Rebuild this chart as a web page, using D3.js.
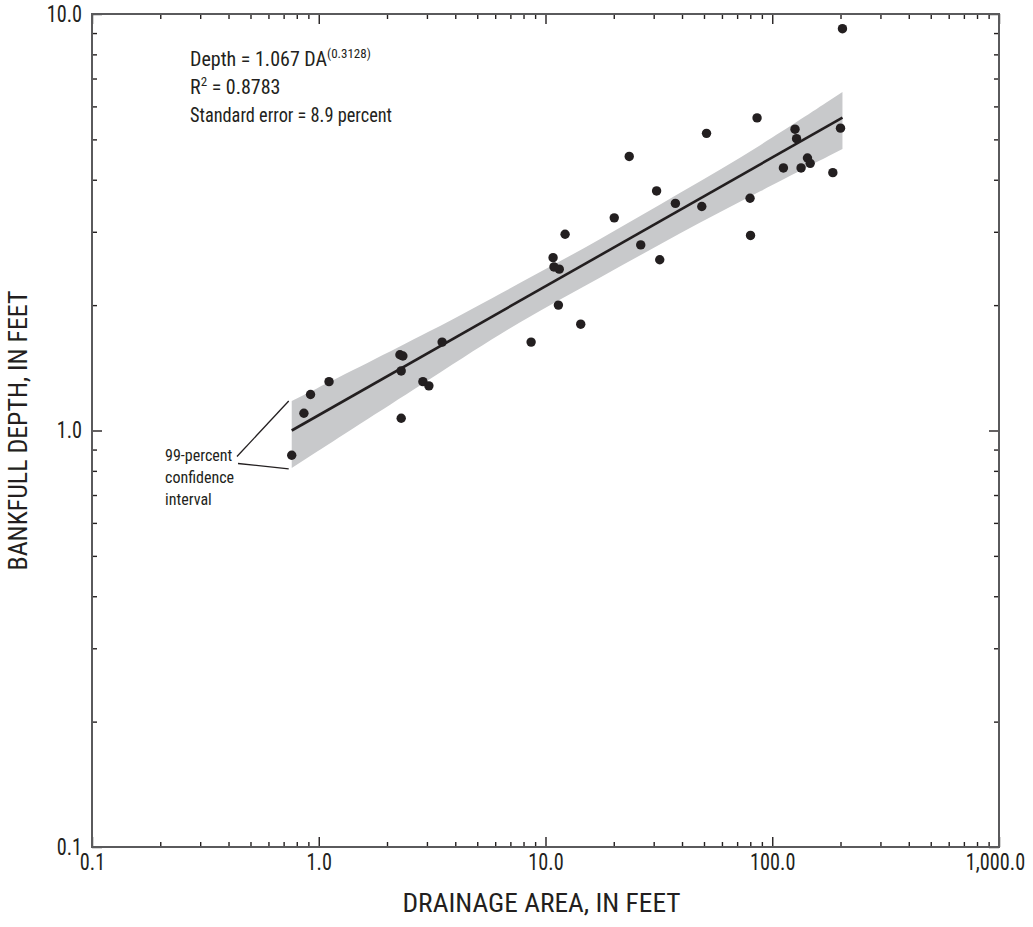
<!DOCTYPE html>
<html><head><meta charset="utf-8">
<script src="https://cdn.jsdelivr.net/npm/d3@7"></script>
<style>
html,body{margin:0;padding:0;background:#fff;}
svg text{font-family:"Liberation Sans Narrow","Arial Narrow","Roboto Condensed","Liberation Sans",sans-serif;font-stretch:condensed;fill:#231f20;}
</style></head>
<body><svg id="chart" width="1033" height="927"></svg>
<script>
// ---- data ----
const drainageArea = [0.76,0.86,0.92,1.11,2.28,2.35,2.31,2.88,3.06,2.31,3.50,8.64,10.8,10.9,11.5,11.4,12.2,14.3,20.1,23.4,26.3,30.9,31.9,37.4,48.9,51.3,79.8,80.2,85.7,112,126,128,134,143,147,185,200,204];
const bankfullDepth = [0.872,1.10,1.22,1.31,1.52,1.51,1.39,1.31,1.28,1.07,1.63,1.63,2.60,2.47,2.44,2.00,2.96,1.80,3.24,4.55,2.79,3.76,2.57,3.51,3.45,5.17,3.61,2.94,5.63,4.27,5.29,5.02,4.27,4.51,4.38,4.16,5.32,9.22];
const fitDA = [0.76, 204];
const fitDepth = [1.0, 5.64];
const bandDA = [0.76, 3.42, 7.70, 17.35, 39.1, 88.1, 204];
const bandLower = [0.813, 1.376, 1.832, 2.323, 2.980, 3.748, 4.742];
const bandUpper = [1.177, 1.774, 2.261, 2.867, 3.717, 4.808, 6.496];
const xTickValues = [0.1, 1, 10, 100, 1000];
const xTickLabels = ["0.1", "1.0", "10.0", "100.0", "1,000.0"];
const yTickValues = [0.1, 1, 10];
const yTickLabels = ["0.1", "1.0", "10.0"];
const xTitle = "DRAINAGE AREA, IN FEET";
const yTitle = "BANKFULL DEPTH, IN FEET";
const annotationLines = ["99-percent", "confidence", "interval"];

// ---- layout ----
const L = 92, R = 999, T = 14, B = 847;
const svg = d3.select("#chart");
const x = d3.scaleLog().domain([0.1, 1000]).range([L, R]);
const y = d3.scaleLog().domain([0.1, 10]).range([B, T]);
const ink = "#231f20";

const minorX = [], minorY = [];
[0.1, 1, 10, 100].forEach(d => { for (let k = 2; k <= 9; k++) minorX.push(d * k); });
[0.1, 1].forEach(d => { for (let k = 2; k <= 9; k++) minorY.push(d * k); });

// confidence band
const bandData = bandDA.map((d, i) => ({da: d, lo: bandLower[i], hi: bandUpper[i]}));
svg.append("path")
  .datum(bandData)
  .attr("fill", "#c8c9cb")
  .attr("d", d3.area().curve(d3.curveBasis)
    .x(d => x(d.da)).y0(d => y(d.lo)).y1(d => y(d.hi)));

// fitted line
svg.append("path")
  .datum(fitDA.map((d, i) => [d, fitDepth[i]]))
  .attr("fill", "none").attr("stroke", ink).attr("stroke-width", 2.6)
  .attr("d", d3.line().x(d => x(d[0])).y(d => y(d[1])));

// points
svg.append("g").selectAll("circle")
  .data(drainageArea.map((d, i) => [d, bankfullDepth[i]]))
  .join("circle")
  .attr("cx", d => x(d[0])).attr("cy", d => y(d[1])).attr("r", 4.7)
  .attr("fill", ink);

// axes ticks (inward)
function styleAxis(g) {
  g.select(".domain").remove();
  g.selectAll(".tick line").attr("stroke", ink).attr("stroke-width", 1.4);
  g.selectAll(".tick text").attr("font-size", 23).attr("fill", ink)
    .attr("font-family", null)
    .each(function () {
      const w = this.getComputedTextLength();
      d3.select(this).attr("textLength", w * 0.88).attr("lengthAdjust", "spacingAndGlyphs");
    });
}
// bottom
const xMajor = svg.append("g").attr("transform", `translate(0,${B})`)
  .call(d3.axisBottom(x).tickValues(xTickValues).tickSize(-10).tickPadding(7)
    .tickFormat((d, i) => xTickLabels[i])).call(styleAxis);
xMajor.selectAll(".tick text").filter(d => d === 1000).attr("dx", -4);
svg.append("g").attr("transform", `translate(0,${B})`)
  .call(d3.axisBottom(x).tickValues(minorX).tickSize(-5).tickFormat("")).call(styleAxis);
// top
svg.append("g").attr("transform", `translate(0,${T})`)
  .call(d3.axisTop(x).tickValues(xTickValues).tickSize(-10).tickFormat("")).call(styleAxis);
svg.append("g").attr("transform", `translate(0,${T})`)
  .call(d3.axisTop(x).tickValues(minorX).tickSize(-5).tickFormat("")).call(styleAxis);
// left
svg.append("g").attr("transform", `translate(${L},0)`)
  .call(d3.axisLeft(y).tickValues(yTickValues).tickSize(-10).tickPadding(10)
    .tickFormat((d, i) => yTickLabels[i])).call(styleAxis);
svg.append("g").attr("transform", `translate(${L},0)`)
  .call(d3.axisLeft(y).tickValues(minorY).tickSize(-5).tickFormat("")).call(styleAxis);
// right
svg.append("g").attr("transform", `translate(${R},0)`)
  .call(d3.axisRight(y).tickValues(yTickValues).tickSize(-10).tickFormat("")).call(styleAxis);
svg.append("g").attr("transform", `translate(${R},0)`)
  .call(d3.axisRight(y).tickValues(minorY).tickSize(-5).tickFormat("")).call(styleAxis);

// frame
svg.append("rect").attr("x", L).attr("y", T).attr("width", R - L).attr("height", B - T)
  .attr("fill", "none").attr("stroke", "#5a5a5c").attr("stroke-width", 2);

// titles
svg.append("text").attr("x", (L + R) / 2 - 4).attr("y", 912).attr("text-anchor", "middle")
  .attr("font-size", 25).attr("textLength", 278).attr("lengthAdjust", "spacingAndGlyphs")
  .text(xTitle);
svg.append("text").attr("transform", `translate(27,${(T + B) / 2}) rotate(-90)`)
  .attr("text-anchor", "middle").attr("font-size", 25)
  .attr("textLength", 280).attr("lengthAdjust", "spacingAndGlyphs").text(yTitle);

// equation block
const eq = svg.append("g");
const t1 = eq.append("text").attr("x", 190).attr("y", 66).attr("font-size", 20);
t1.append("tspan").text("Depth = 1.067 DA");
t1.append("tspan").attr("dy", -8).attr("font-size", 13).text("(0.3128)");
const t2 = eq.append("text").attr("x", 190).attr("y", 94).attr("font-size", 20);
t2.append("tspan").text("R");
t2.append("tspan").attr("dy", -8).attr("font-size", 13).text("2");
t2.append("tspan").attr("dy", 8).text(" = 0.8783");
eq.append("text").attr("x", 190).attr("y", 122).attr("font-size", 20)
  .attr("textLength", 202).attr("lengthAdjust", "spacingAndGlyphs")
  .text("Standard error = 8.9 percent");

// annotation
svg.append("g").selectAll("text").data(annotationLines).join("text")
  .attr("x", 165).attr("y", (d, i) => 461 + i * 22).attr("font-size", 16).text(d => d);
const bandStartX = x(bandDA[0]) - 3;
svg.append("line").attr("x1", 237).attr("y1", 456.5).attr("x2", bandStartX).attr("y2", y(bandUpper[0]))
  .attr("stroke", ink).attr("stroke-width", 1.3);
svg.append("line").attr("x1", 238).attr("y1", 463.5).attr("x2", bandStartX).attr("y2", y(bandLower[0]) + 1)
  .attr("stroke", ink).attr("stroke-width", 1.3);
</script></body></html>
